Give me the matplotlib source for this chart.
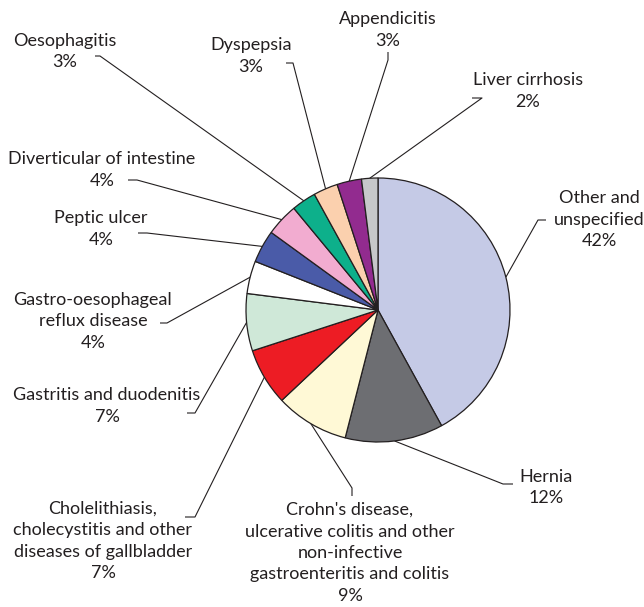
import matplotlib.pyplot as plt
import numpy as np

H = 607

labels = ["Other and\nunspecified", "Hernia",
          "Crohn's disease,\nulcerative colitis and other\nnon-infective\ngastroenteritis and colitis",
          "Cholelithiasis,\ncholecystitis and other\ndiseases of gallbladder",
          "Gastritis and duodenitis", "Gastro-oesophageal\nreflux disease",
          "Peptic ulcer", "Diverticular of intestine", "Oesophagitis",
          "Dyspepsia", "Appendicitis", "Liver cirrhosis"]
values = [42, 12, 9, 7, 7, 4, 4, 4, 3, 3, 3, 2]
colors = ["#c5cae6", "#6d6e72", "#fff9d6", "#ed1c24", "#cfe8d8", "#ffffff",
          "#4a5ba8", "#f2acd0", "#0db08b", "#fbd0ae", "#922b8f", "#c7c8ca"]

# label centre (pixels) and leader elbow / tick end (pixels)
text_pos = [(599, 219.5), (546, 487.5), (350, 553), (103, 541), (107, 406),
            (93, 321.5), (101, 229), (102, 170), (65, 51.5), (251, 56),
            (388, 30), (528, 91)]
leaders = [((538, 220), (546, 220)), ((503, 484), (513, 484)),
           ((352, 488), (352, 496)), ((195, 517), (185, 517)),
           ((195, 413), (187, 413)), ((167, 323), (160, 323)),
           ((147, 233), (138, 233)), ((137, 180), (128, 180)),
           ((100, 56), (95, 56)), ((293, 63), (286, 63)),
           ((388, 60), (388, 52)), ((482, 98), (472, 98))]

cx, cy, r = 378, H - 310, 132

fig = plt.figure(figsize=(6.44, 6.07), dpi=100)
ax = fig.add_axes([0, 0, 1, 1])
wedges, _ = ax.pie(values, colors=colors, startangle=90, counterclock=False,
                   center=(cx, cy), radius=r,
                   wedgeprops=dict(edgecolor="#231f20", linewidth=0.9))
ax.set_xlim(0, 644)
ax.set_ylim(0, H)
ax.set_aspect("auto")
ax.axis("off")

for w, lab, v, (tx, ty), (elb, end) in zip(wedges, labels, values, text_pos, leaders):
    ang = np.deg2rad((w.theta1 + w.theta2) / 2)
    px, py = cx + r * np.cos(ang), cy + r * np.sin(ang)
    ax.plot([px, elb[0], end[0]], [py, H - elb[1], H - end[1]],
            color="#231f20", lw=0.8, solid_capstyle="butt", zorder=0)
    ax.text(tx, H - ty, f"{lab}\n{v}%", ha="center", va="center",
            multialignment="center", fontsize=13, family="Lato",
            color="#231f20", linespacing=1.42)

fig.savefig("out.png", dpi=100)
